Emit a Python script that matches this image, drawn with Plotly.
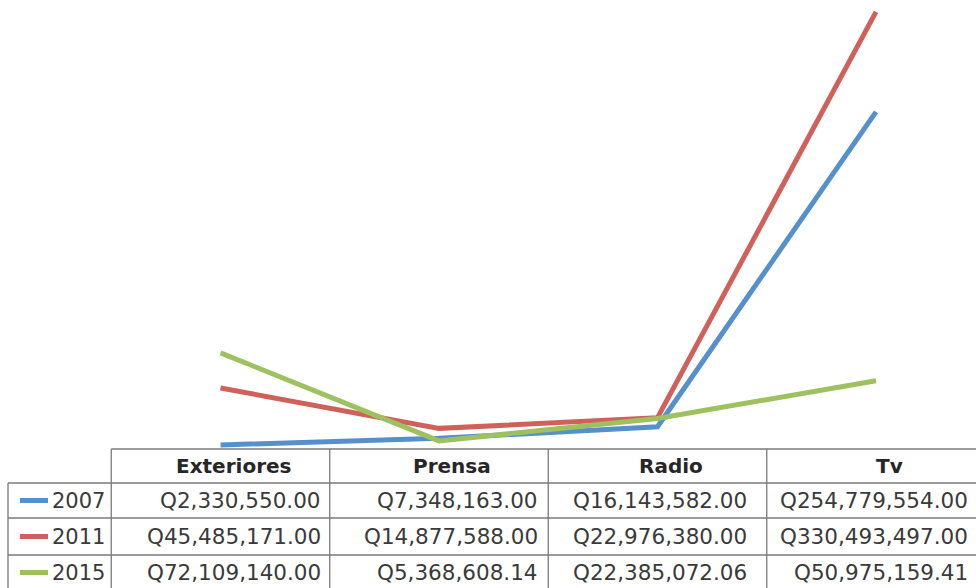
import plotly.graph_objects as go

categories = ["Exteriores", "Prensa", "Radio", "Tv"]
series_names = ["2007", "2011", "2015"]
values_2007 = [2330550.00, 7348163.00, 16143582.00, 254779554.00]
values_2011 = [45485171.00, 14877588.00, 22976380.00, 330493497.00]
values_2015 = [72109140.00, 5368608.14, 22385072.06, 50975159.41]
series_values = [values_2007, values_2011, values_2015]
colors = ["#5690CC", "#D0605A", "#9DC15E"]

W, H = 976, 588
def px(xp):
    return xp / W
def py(yp):
    return 1 - yp / H

# layout constants (pixels)
zero_px = 448.0
first_cat_px = 220.5
cat_step_px = 218.5
y_max = zero_px / ((445 - 12) / ((values_2011[3] - values_2007[0]) / 1e6)) * 1e6

fig = go.Figure()
for name, vals, col in zip(series_names, series_values, colors):
    fig.add_trace(go.Scatter(
        x=categories, y=vals, mode="lines", name=name,
        line=dict(color=col, width=5), hoverinfo="skip", showlegend=False))

x_lo = -first_cat_px / cat_step_px
x_hi = (W - first_cat_px) / cat_step_px

shapes = []
line_col = "#7a7a7a"
lw = 1.3
row_lines = [449, 483, 518, 555]
# horizontal lines
shapes.append(dict(type="line", xref="x", yref="paper", x0=-0.5, x1=x_hi + 1,
                   y0=py(row_lines[0]), y1=py(row_lines[0]), line=dict(color=line_col, width=lw)))
for r in row_lines[1:]:
    shapes.append(dict(type="line", xref="paper", yref="paper", x0=px(8), x1=1.05,
                       y0=py(r), y1=py(r), line=dict(color=line_col, width=lw)))
# vertical lines
shapes.append(dict(type="line", xref="paper", yref="paper", x0=px(8), x1=px(8),
                   y0=py(row_lines[1]), y1=py(H + 10), line=dict(color=line_col, width=lw)))
for i in range(len(categories) + 1):
    shapes.append(dict(type="line", xref="x", yref="paper", x0=i - 0.5, x1=i - 0.5,
                       y0=py(row_lines[0]), y1=py(H + 10), line=dict(color=line_col, width=lw)))

annotations = []
header_y = (row_lines[0] + row_lines[1]) / 2
for i, c in enumerate(categories):
    annotations.append(dict(text="<b>%s</b>" % c, x=i + 0.06, xref="x", y=py(header_y), yref="paper",
                            showarrow=False, xanchor="center", yanchor="middle",
                            font=dict(family="DejaVu Sans", size=20, color="#262626")))

row_centers = [500.5, 536.5, 572.5]
right_edges = [323, 540, 749, 970]
for r, (name, vals, col) in enumerate(zip(series_names, series_values, colors)):
    yc = row_centers[r]
    shapes.append(dict(type="line", xref="paper", yref="paper", x0=px(20), x1=px(48),
                       y0=py(yc), y1=py(yc), line=dict(color=col, width=5)))
    annotations.append(dict(text=name, x=px(107), xref="paper", y=py(yc), yref="paper",
                            showarrow=False, xanchor="right", yanchor="middle",
                            font=dict(family="DejaVu Sans", size=21, color="#3a3a3a")))
    for i, v in enumerate(vals):
        annotations.append(dict(text="Q{:,.2f}".format(v), x=px(right_edges[i]), xref="paper",
                                y=py(yc), yref="paper", showarrow=False,
                                xanchor="right", yanchor="middle",
                                font=dict(family="DejaVu Sans", size=21.5, color="#3a3a3a")))

fig.update_layout(
    width=W, height=H, margin=dict(l=0, r=0, t=0, b=0),
    paper_bgcolor="white", plot_bgcolor="white",
    xaxis=dict(range=[x_lo, x_hi], domain=[0, 1], showgrid=False, zeroline=False,
               showticklabels=False, showline=False, type="category"),
    yaxis=dict(range=[0, y_max], domain=[py(zero_px), 1], showgrid=False, zeroline=False,
               showticklabels=False, showline=False),
    shapes=shapes, annotations=annotations,
)
fig.write_html("out.html", config={"displayModeBar": False},
               post_script="document.body.style.margin='0';document.body.style.overflow='hidden';")
